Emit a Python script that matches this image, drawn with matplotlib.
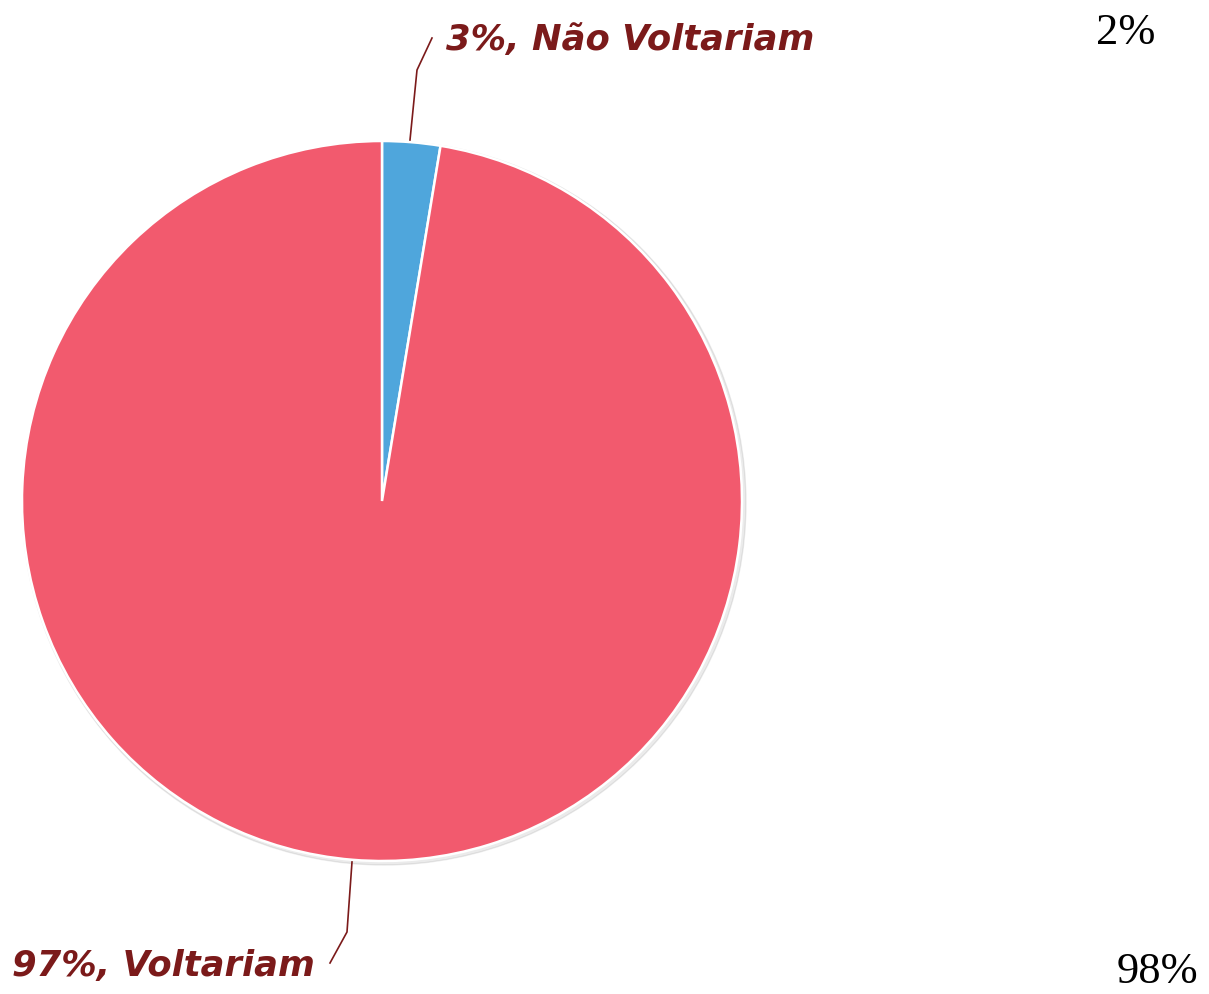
import matplotlib.pyplot as plt
from matplotlib.patches import Circle

# dados
categorias = ["Não Voltariam", "Voltariam"]
valores = [2.6, 97.4]
rotulos = ["3%, Não Voltariam", "97%, Voltariam"]
cores = ["#4fa6dc", "#f25a6e"]
extras = ["2%", "98%"]

W, H = 1209, 994
fig = plt.figure(figsize=(W / 100, H / 100), dpi=100)
ax = fig.add_axes([0, 0, 1, 1])

cx, cy, r = 382, H - 501, 360

# sombra leve
ax.add_patch(Circle((cx + 2, cy - 2), r + 2, color="#000000", alpha=0.08, zorder=0))

ax.pie(valores, colors=cores, startangle=90, counterclock=False,
       center=(cx, cy), radius=r, frame=True,
       wedgeprops=dict(edgecolor="white", linewidth=1.8))
ax.set_xlim(0, W)
ax.set_ylim(0, H)
ax.set_aspect("equal")
ax.axis("off")

cor_txt = "#7b1a1a"
# linhas de chamada
ax.plot([410, 417, 432], [H - 140, H - 70, H - 38], color=cor_txt, lw=1.2)
ax.plot([352, 347, 330], [H - 862, H - 932, H - 963], color=cor_txt, lw=1.2)

ax.text(446, H - 40, rotulos[0], color=cor_txt, fontsize=25.5, fontweight="bold",
        fontstyle="italic", family="DejaVu Sans", ha="left", va="center")
ax.text(12, H - 966, rotulos[1], color=cor_txt, fontsize=25.5, fontweight="bold",
        fontstyle="italic", family="DejaVu Sans", ha="left", va="center")

ax.text(1126, H - 33, extras[0], fontsize=32, family="Liberation Serif",
        ha="center", va="center", color="black")
ax.text(1157, H - 972, extras[1], fontsize=32, family="Liberation Serif",
        ha="center", va="center", color="black")

fig.savefig("out.png", dpi=100)
